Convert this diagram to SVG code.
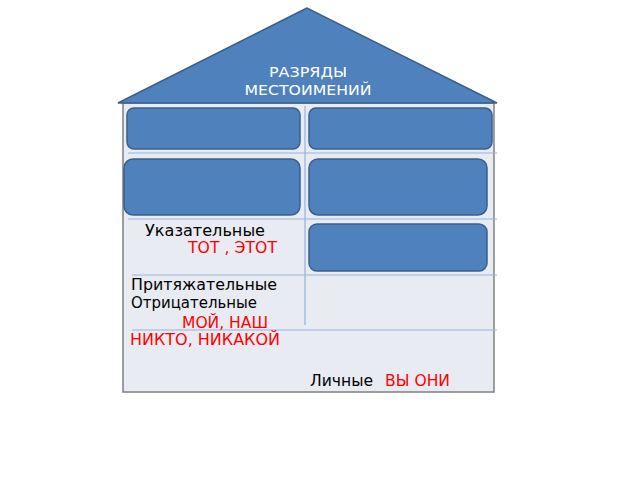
<svg xmlns="http://www.w3.org/2000/svg" width="640" height="480" viewBox="0 0 640 480">
<style>
.box{fill:#4F81BD;stroke:#3A5F8B;stroke-width:1.5}
.grid{stroke:#95B3D7;stroke-width:1.2;fill:none}
.t{font-family:"DejaVu Sans",sans-serif;font-size:15.5px;fill:#000}
.r{font-family:"DejaVu Sans",sans-serif;font-size:15.5px;fill:#FF0000}
.w{font-family:"DejaVu Sans",sans-serif;font-size:14px;fill:#FFFFFF;text-anchor:middle}
</style>
<rect width="640" height="480" fill="#FFFFFF"/>
<g id="house">
<rect x="123" y="103" width="371" height="289" fill="#E8EBF2" stroke="#808080" stroke-width="1.5"/>
</g>
<g id="connectors">
<line class="grid" x1="305" y1="106" x2="305" y2="325"/>
<line class="grid" x1="128" y1="153" x2="497" y2="153"/>
<line class="grid" x1="128" y1="219" x2="497" y2="219"/>
<line class="grid" x1="132" y1="275" x2="497" y2="275"/>
<line class="grid" x1="132" y1="330" x2="497" y2="330"/>
</g>
<g id="roof">
<polygon points="307,8 118,103 497,103" fill="#4F81BD" stroke="#3A5F8B" stroke-width="1.5"/>
<text class="w" x="308" y="77" textLength="78" lengthAdjust="spacingAndGlyphs">РАЗРЯДЫ</text>
<text class="w" x="308" y="95" textLength="127" lengthAdjust="spacingAndGlyphs">МЕСТОИМЕНИЙ</text>
</g>
<g id="box1"><rect class="box" x="127" y="108" width="173" height="41" rx="7"/></g>
<g id="box2"><rect class="box" x="309" y="108" width="183" height="41" rx="7"/></g>
<g id="box3"><rect class="box" x="124" y="159" width="176" height="56" rx="9"/></g>
<g id="box4"><rect class="box" x="309" y="159" width="178" height="56" rx="9"/></g>
<g id="box5"><rect class="box" x="309" y="224" width="178" height="47" rx="8"/></g>
<g id="labels">
<text class="t" x="145" y="236" textLength="120" lengthAdjust="spacingAndGlyphs">Указательные</text>
<text class="r" x="188" y="253" textLength="89" lengthAdjust="spacingAndGlyphs">ТОТ , ЭТОТ</text>
<text class="t" x="131" y="290" textLength="146" lengthAdjust="spacingAndGlyphs">Притяжательные</text>
<text class="t" x="131" y="308" textLength="126" lengthAdjust="spacingAndGlyphs">Отрицательные</text>
<text class="r" x="182" y="328" textLength="86" lengthAdjust="spacingAndGlyphs">МОЙ, НАШ</text>
<text class="r" x="130" y="345" textLength="150" lengthAdjust="spacingAndGlyphs">НИКТО, НИКАКОЙ</text>
<text class="t" x="310" y="386" textLength="63" lengthAdjust="spacingAndGlyphs">Личные</text>
<text class="r" x="385" y="386" textLength="65" lengthAdjust="spacingAndGlyphs">ВЫ ОНИ</text>
</g>
</svg>
